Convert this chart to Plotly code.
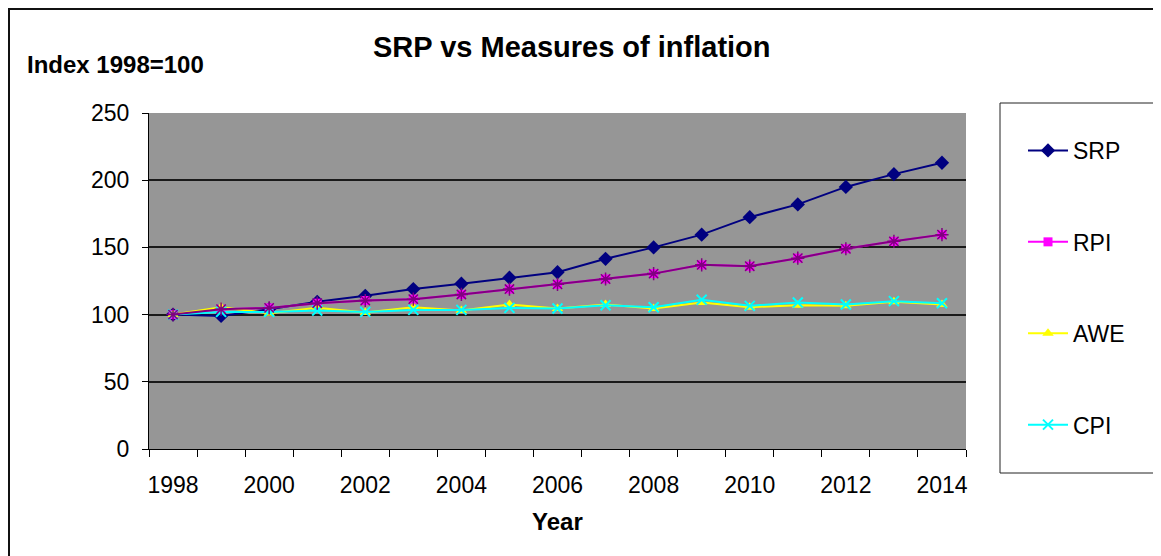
import plotly.graph_objects as go

years = list(range(1998, 2015))
srp = [100, 99, 104, 109.5, 114, 119, 123, 127.5, 131.5, 141.5, 150, 159.5, 172.5, 182, 195, 204.5, 213]
rpi = [100, 104, 105, 108.5, 110.5, 111.5, 115, 119, 122.5, 126.5, 130.5, 137, 136, 142, 149, 154.5, 159.5]
awe = [100, 105.5, 101, 105, 101.5, 105.5, 103, 107.5, 104.5, 107.5, 104.5, 109, 105.5, 107, 106.5, 109.5, 107.5]
cpi = [100, 102, 102, 103, 102, 103.5, 103.5, 105, 104.5, 107, 105.5, 111, 106.5, 109, 107.5, 110, 108.5]
rpi_star = rpi  # overlapping Excel series drawn on top of RPI (not in legend)
x_labels = [str(y) for y in range(1998, 2015, 2)]

FONT = "Arial, Liberation Sans, sans-serif"

# the page body has an 8px margin: work in screen coords, convert to figure coords
OFF = 8
W, H = 1161 - OFF, 556 - OFF
L, R, T, B = 149 - OFF, 966 - OFF, 113 - OFF, 449 - OFF
def px(x):
    return (x - OFF - L) / (R - L)
def py(y):
    return (B - (y - OFF)) / (B - T)

fig = go.Figure()
fig.add_trace(go.Scatter(x=years, y=srp, name="SRP", mode="lines+markers",
                         line=dict(color="#000080", width=2),
                         marker=dict(symbol="diamond", size=11, color="#000080"),
                         legendgroup="a"))
fig.add_trace(go.Scatter(x=years, y=rpi, name="RPI", mode="lines+markers",
                         line=dict(color="#FF00FF", width=2),
                         marker=dict(symbol="square", size=9, color="#FF00FF"),
                         legendgroup="b"))
fig.add_trace(go.Scatter(x=years, y=awe, name="AWE", mode="lines+markers",
                         line=dict(color="#FFFF00", width=2),
                         marker=dict(symbol="triangle-up", size=10, color="#FFFF00"),
                         legendgroup="c"))
fig.add_trace(go.Scatter(x=years, y=cpi, name="CPI", mode="lines+markers",
                         line=dict(color="#00FFFF", width=2),
                         marker=dict(symbol="x-thin-open", size=10,
                                     line=dict(color="#00FFFF", width=2)),
                         legendgroup="d"))
fig.add_trace(go.Scatter(x=years, y=rpi_star, name="RPI*", mode="lines+markers",
                         line=dict(color="#800080", width=2),
                         marker=dict(symbol="asterisk-open", size=11,
                                     line=dict(color="#800080", width=1.5)),
                         showlegend=False))

shapes = [
    # chart border (top and left)
    dict(type="line", xref="paper", yref="paper", x0=px(9), x1=px(1170), y0=py(9), y1=py(9),
         line=dict(color="#111111", width=2)),
    dict(type="line", xref="paper", yref="paper", x0=px(9), x1=px(9), y0=py(8), y1=py(570),
         line=dict(color="#111111", width=2)),
    # legend box
    dict(type="rect", xref="paper", yref="paper", x0=px(1000), x1=px(1154), y0=py(473), y1=py(103),
         line=dict(color="#222222", width=1), fillcolor="rgba(0,0,0,0)"),
]

annotations = [
    dict(text="<b>SRP vs Measures of inflation</b>", xref="paper", yref="paper",
         x=px(572), y=py(47), xanchor="center", yanchor="middle", showarrow=False,
         font=dict(family=FONT, size=29, color="black")),
    dict(text="<b>Index 1998=100</b>", xref="paper", yref="paper",
         x=px(25), y=py(64), xanchor="left", yanchor="middle", showarrow=False,
         font=dict(family=FONT, size=24, color="black")),
    dict(text="<b>Year</b>", xref="paper", yref="paper",
         x=px(557), y=py(521), xanchor="center", yanchor="middle", showarrow=False,
         font=dict(family=FONT, size=24, color="black")),
]

fig.update_layout(
    width=W, height=H,
    margin=dict(l=L, r=W - R, t=T, b=H - B, pad=0),
    paper_bgcolor="white",
    plot_bgcolor="#969696",
    font=dict(family=FONT, size=23, color="black"),
    showlegend=True,
    legend=dict(x=px(1023), y=py(129), xanchor="left", yanchor="top",
                bgcolor="rgba(0,0,0,0)", borderwidth=0, tracegroupgap=58.5,
                font=dict(family=FONT, size=23, color="black"), itemwidth=40),
    shapes=shapes,
    annotations=annotations,
)

fig.update_xaxes(
    range=[1997.5, 2014.5],
    tickmode="array", tickvals=list(range(1998, 2015, 2)), ticktext=x_labels,
    ticks="", showgrid=False, zeroline=False,
    showline=True, linecolor="black", linewidth=1,
    ticklabelstandoff=15,
    minor=dict(tickmode="linear", tick0=1997.5, dtick=1, ticks="outside",
               ticklen=7, tickcolor="black", tickwidth=1, showgrid=False),
    tickfont=dict(family=FONT, size=23, color="black"),
)
fig.update_yaxes(
    range=[0, 250], tickmode="linear", tick0=0, dtick=50,
    ticks="outside", ticklen=6, tickcolor="black", tickwidth=1,
    showgrid=True, gridcolor="#1a1a1a", gridwidth=1.5, zeroline=False,
    showline=True, linecolor="black", linewidth=1,
    ticklabelstandoff=8,
    tickfont=dict(family=FONT, size=23, color="black"),
)

fig.write_html("out.html")
